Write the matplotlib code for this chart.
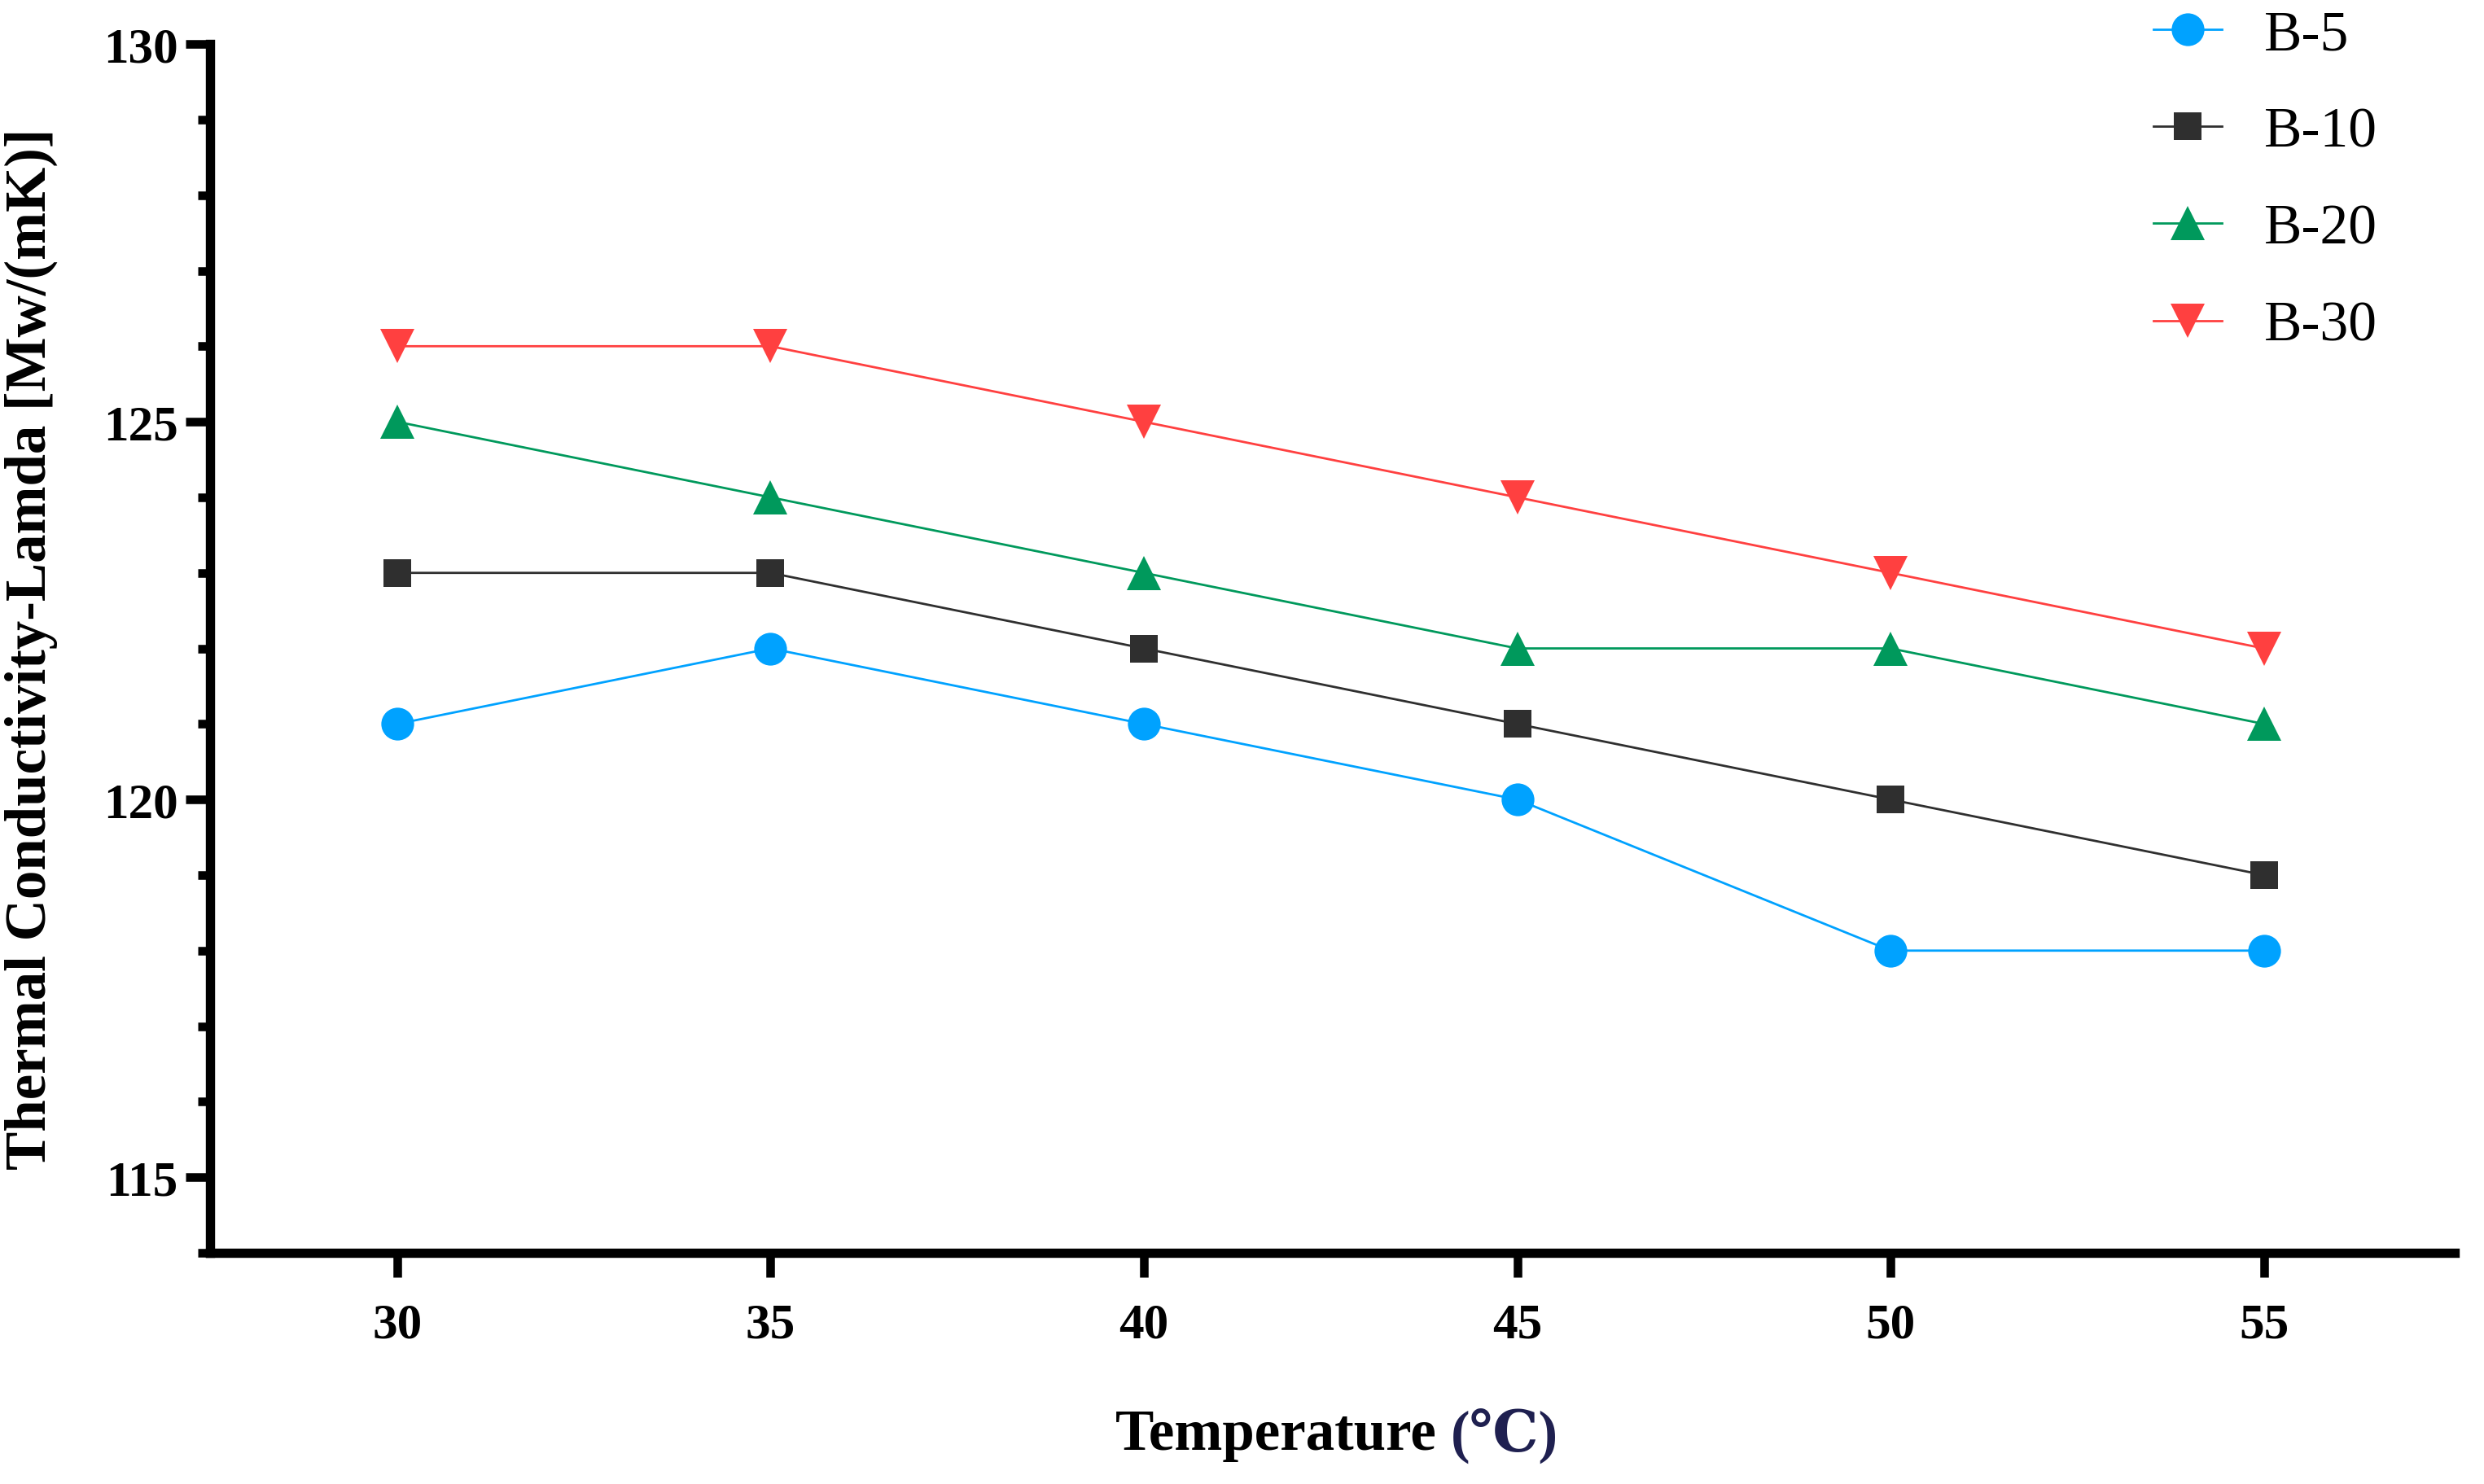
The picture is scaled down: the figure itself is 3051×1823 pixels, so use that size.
import matplotlib
matplotlib.use("Agg")
import matplotlib.pyplot as plt
from matplotlib.ticker import MultipleLocator

# data
temps = [30, 35, 40, 45, 50, 55]
b5 = [121, 122, 121, 120, 118, 118]
b10 = [123, 123, 122, 121, 120, 119]
b20 = [125, 124, 123, 122, 122, 121]
b30 = [126, 126, 125, 124, 123, 122]

series = [
    ("B-5", b5, "o", "#00A2FF", 14.5),
    ("B-10", b10, "s", "#2F2F2F", 12),
    ("B-20", b20, "^", "#00995C", 15),
    ("B-30", b30, "v", "#FF4040", 15),
]

serif = ["Liberation Serif", "DejaVu Serif"]
plt.rcParams["font.family"] = serif

fig = plt.figure(figsize=(15.255, 9.12), dpi=200)
ax = fig.add_axes([0.0847, 0.1557, 0.9034, 0.8141])

for name, vals, mk, col, ms in series:
    ax.plot(temps, vals, marker=mk, color=col, ms=ms, lw=1.0,
            markeredgewidth=0, label=name)

ax.set_xlim(27.5, 57.55)
ax.set_ylim(114, 130)
ax.set_xticks(temps)
ax.yaxis.set_major_locator(MultipleLocator(5))
ax.yaxis.set_minor_locator(MultipleLocator(1))

for s in ["top", "right"]:
    ax.spines[s].set_visible(False)
for s in ["left", "bottom"]:
    ax.spines[s].set_linewidth(4.1)

ax.tick_params(axis="both", which="major", length=10.8, width=3.8, labelsize=22)
ax.tick_params(axis="y", which="minor", length=5.4, width=3.8)
ax.tick_params(axis="x", pad=11)
ax.tick_params(axis="y", pad=3.6)
for lbl in ax.get_xticklabels() + ax.get_yticklabels():
    lbl.set_fontweight("bold")

ax.set_ylabel("Thermal Conductivity-Lamda [Mw/(mK)]", fontsize=25.5,
              fontweight="bold")
ax.yaxis.set_label_coords(-0.068, 0.5)

# x label with coloured unit part
fig.text(0.584, 0.033, "Temperature ", fontsize=25.5, fontweight="bold",
         ha="right", va="center")
fig.text(0.584, 0.033, "(\u2103)", fontsize=25.5, fontweight="bold",
         color="#1F2050", ha="left", va="center", family=serif)

fig.legend(loc="upper left", bbox_to_anchor=(0.867, 0.993), frameon=False,
           fontsize=25, handlelength=1.2, handletextpad=0.75,
           labelspacing=0.8, borderpad=0, borderaxespad=0)

fig.savefig("out.png", dpi=200)
